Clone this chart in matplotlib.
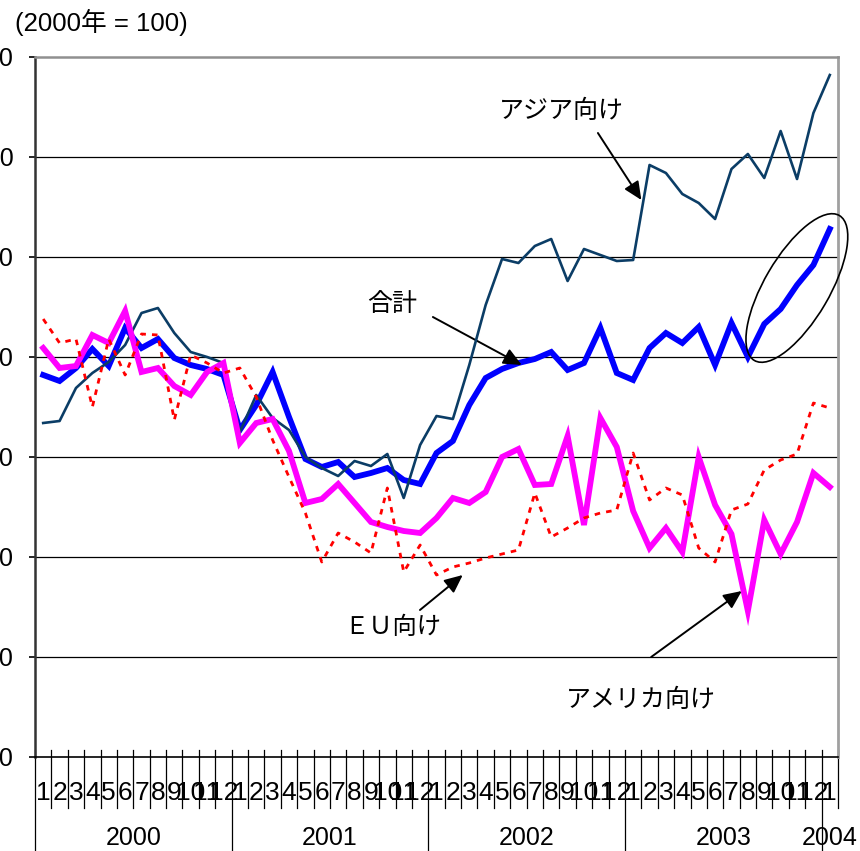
import matplotlib
matplotlib.use("Agg")
import matplotlib.pyplot as plt
import matplotlib.transforms as mtransforms
from matplotlib.patches import Ellipse
import numpy as np

plt.rcParams['font.family'] = ['Liberation Sans', 'Noto Sans CJK JP', 'DejaVu Sans']

# ---------------- data ----------------
month_labels = [str(m) for m in range(1, 13)] * 4 + ['1']
years = ['2000', '2001', '2002', '2003', '2004']
year_start_idx = [0, 12, 24, 36, 48]

asia = [93.4, 93.6, 96.9, 98.4, 99.5, 101.2, 104.4, 104.9, 102.4, 100.5, 100.0, 99.4,
        92.5, 96.2, 93.9, 92.7, 90.0, 88.9, 88.1, 89.6, 89.1, 90.3, 85.9, 91.2,
        94.1, 93.8, 99.2, 105.2, 109.8, 109.4, 111.1, 111.8, 107.6, 110.8, 110.2, 109.6,
        109.7, 119.2, 118.4, 116.3, 115.4, 113.8, 118.8, 120.3, 117.9, 122.6, 117.8, 124.4,
        128.2]
total = [98.2, 97.6, 98.9, 100.8, 99.1, 102.9, 100.9, 101.8, 99.9, 99.2, 98.8, 98.2,
         92.7, 95.2, 98.5, 94.0, 89.8, 89.0, 89.5, 88.0, 88.4, 88.9, 87.7, 87.3,
         90.4, 91.6, 95.2, 97.9, 98.8, 99.4, 99.8, 100.5, 98.7, 99.4, 102.9, 98.4,
         97.7, 100.9, 102.4, 101.4, 103.0, 99.2, 103.4, 100.0, 103.3, 104.8, 107.2, 109.2,
         112.8]
america = [100.9, 98.9, 99.1, 102.2, 101.4, 104.6, 98.5, 98.9, 97.1, 96.2, 98.5, 99.4,
           91.4, 93.4, 93.8, 90.6, 85.4, 85.8, 87.3, 85.4, 83.5, 83.0, 82.6, 82.4,
           83.9, 85.9, 85.4, 86.5, 90.0, 90.8, 87.2, 87.3, 92.1, 83.2, 93.9, 91.0,
           84.6, 80.9, 82.9, 80.5, 90.0, 85.2, 82.3, 74.6, 83.7, 80.3, 83.5, 88.4,
           87.0]
eu = [103.8, 101.4, 101.8, 95.0, 101.8, 98.2, 102.3, 102.2, 93.7, 100.2, 99.4, 98.4,
      98.9, 96.0, 91.7, 88.0, 84.4, 79.5, 82.4, 81.5, 80.4, 86.9, 78.5, 81.2,
      78.2, 79.0, 79.4, 79.9, 80.3, 80.7, 86.4, 82.0, 82.9, 83.9, 84.4, 84.7,
      90.4, 85.7, 86.9, 86.2, 80.9, 79.5, 84.7, 85.3, 88.7, 89.7, 90.3, 95.4,
      94.9]

y_ticks = [60, 70, 80, 90, 100, 110, 120, 130]

# ---------------- figure ----------------
W, H = 860, 851
fig = plt.figure(figsize=(W / 100, H / 100), dpi=100)
ax = fig.add_axes([35 / W, (H - 757) / H, (838 - 35) / W, 700 / H])

x = np.arange(len(total))
n = len(total)

ax.plot(x, total, color='#0000FF', lw=4.2, zorder=3, solid_joinstyle='miter')
ax.plot(x, asia, color='#0B3D66', lw=1.9, zorder=4)
ax.plot(x, america, color='#FF00FF', lw=4.2, zorder=5, solid_joinstyle='miter')
ax.plot(x, eu, color='#FF0000', lw=2.0, ls=(0, (2, 2.2)), zorder=6)

ax.set_xlim(-0.5, n - 0.5)
ax.set_ylim(60, 130)
ax.set_yticks(y_ticks)
ax.set_yticklabels([str(v) for v in y_ticks], fontsize=18)
ax.tick_params(axis='y', length=4, width=1.2, pad=11.5, colors='black')
ax.set_xticks([])

for v in y_ticks[1:-1]:
    ax.axhline(v, color='black', lw=0.9, zorder=1)

ax.spines['left'].set_color('#333333')
ax.spines['left'].set_linewidth(1.8)
ax.spines['bottom'].set_color('black')
ax.spines['bottom'].set_linewidth(1.2)
ax.spines['top'].set_color('#909090')
ax.spines['top'].set_linewidth(1.8)
ax.spines['right'].set_color('#A0A0A0')
ax.spines['right'].set_linewidth(2.0)

# category axis separators and labels
tr = mtransforms.blended_transform_factory(ax.transData, ax.transAxes)
y_top = 7 / 700
y_month = -51 / 700
y_year = -94 / 700
for k in range(n + 1):
    xb = k - 0.5
    if k in year_start_idx:
        ax.plot([xb, xb], [y_top, y_year], transform=tr, color='black', lw=0.9, clip_on=False)
    else:
        ax.plot([xb, xb], [y_top, y_month], transform=tr, color='black', lw=0.9, clip_on=False)

for i, lab in enumerate(month_labels):
    ax.text(i, -36 / 700, lab, transform=tr, ha='center', va='center', fontsize=19,
            clip_on=False)

for j, yr in enumerate(years):
    s = year_start_idx[j]
    e = year_start_idx[j + 1] - 1 if j + 1 < len(year_start_idx) else n - 1
    ax.text((s + e) / 2, -81 / 700, yr, transform=tr, ha='center', va='center',
            fontsize=18, clip_on=False)

# header
fig.text(15 / W, (H - 22) / H, '(2000年 = 100)', ha='left', va='center', fontsize=18.5)

# annotations
jp = ['Noto Sans CJK JP', 'DejaVu Sans']
arrow = dict(arrowstyle='-|>,head_length=0.55,head_width=0.25', color='black', lw=1.4,
             shrinkA=0, shrinkB=0, mutation_scale=20)

ax.text(31.65, 124.6, 'アジア向け', family=jp, fontsize=18, ha='center', va='center')
ax.annotate('', xy=(36.5, 115.7), xytext=(33.85, 122.4), arrowprops=arrow)

ax.text(21.3, 105.3, '合計', family=jp, fontsize=18, ha='center', va='center')
ax.annotate('', xy=(29.2, 99.2), xytext=(23.78, 104.0), arrowprops=arrow)

ax.text(21.3, 73.0, 'ＥＵ向け', family=jp, fontsize=17.5, ha='center', va='center')
ax.annotate('', xy=(25.6, 78.2), xytext=(22.99, 74.7), arrowprops=arrow, annotation_clip=False)

ax.text(36.47, 65.7, 'アメリカ向け', family=jp, fontsize=18, ha='center', va='center')
ax.annotate('', xy=(42.63, 76.6), xytext=(37.1, 70.0), arrowprops=arrow)

# ellipse around the latest rise of the total
etrans = fig.dpi_scale_trans + mtransforms.ScaledTranslation(45.99, 106.9, ax.transData)
ell = Ellipse((0, 0), 1.68, 0.65, angle=59.6, transform=etrans, fill=False,
              edgecolor='black', lw=1.2, clip_on=False, zorder=7)
ax.add_patch(ell)

fig.savefig('out.png', dpi=100)
